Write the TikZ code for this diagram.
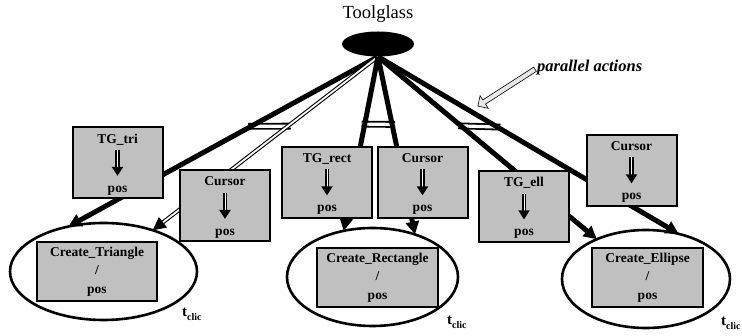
\documentclass[tikz,border=0pt]{standalone}
\usepackage{fontspec}
\setmainfont{Liberation Serif}
\usetikzlibrary{positioning,calc,shapes.geometric,shapes.arrows,arrows.meta}
\definecolor{boxgray}{RGB}{192,192,192}
\definecolor{hintgray}{RGB}{232,232,232}
\newcommand{\tclic}{\textbf{t}\raisebox{-3.5pt}{\fontsize{10}{12}\selectfont\bfseries clic}}

\begin{document}
\begin{tikzpicture}[x=1pt,y=-1pt,
    ring/.style={ellipse,draw,line width=2.6pt,inner sep=0pt,outer sep=0pt},
    createbox/.style={draw,line width=1.4pt,fill=boxgray,inner sep=0pt,minimum height=59pt,
        align=center,font=\fontsize{13.5}{18.5}\selectfont\bfseries},
    actbox/.style={draw,line width=2pt,fill=boxgray,inner sep=0pt,minimum width=90pt,minimum height=71pt},
    boxtext/.style={inner sep=0pt,font=\fontsize{13.5}{16}\selectfont\bfseries},
    tgline/.style={line width=5pt,-{Triangle[width=13pt,length=13pt]}},
    cursline/.style={line width=1.1pt,double=white,double distance=1.8pt,-{Triangle[width=13pt,length=13pt]}},
    parbar/.style={line width=1.8pt,double=white,double distance=3.2pt,shorten <=-3pt,shorten >=-3pt},
    downarr/.style={line width=1.9pt,double=white,double distance=0.9pt,shorten <=7pt,shorten >=10pt,
        -{Triangle[width=11pt,length=9pt]}},
    hintarrow/.style={single arrow,draw,line width=0.6pt,fill=hintgray,minimum width=15pt,
        minimum height=68pt,inner sep=2.2pt,single arrow head extend=5pt}]
    \useasboundingbox (0,0) rectangle (742,336);
    % the three creations
    \node[ring,minimum width=187pt,minimum height=97pt] (ringtri) at (103.5,271.5) {};
    \node[ring,minimum width=171pt,minimum height=98pt] (ringrect) at (372.5,277) {};
    \node[ring,minimum width=168pt,minimum height=98pt] (ringell) at (646,279) {};
    \node[createbox,minimum width=120pt] (crtri) at (97,271.5) {Create\_Triangle\\/\\pos};
    \node[createbox,minimum width=121pt] (crrect) at (377.5,277.5) {Create\_Rectangle\\/\\pos};
    \node[createbox,minimum width=111pt] (crell) at (647.5,277.5) {Create\_Ellipse\\/\\pos};
    \node[anchor=base west,inner sep=0pt,font=\fontsize{15}{18}\selectfont] (ttri) at (182,317) {\tclic};
    \node[anchor=base west,inner sep=0pt,font=\fontsize{15}{18}\selectfont] (trect) at (447,325) {\tclic};
    \node[anchor=base west,inner sep=0pt,font=\fontsize{15}{18}\selectfont] (tell) at (721,326) {\tclic};
    % toolglass
    \node[ellipse,fill=black,minimum width=72pt,minimum height=25pt,inner sep=0pt] (tg) at (378,44) {};
    \node[font=\fontsize{18.5}{22}\selectfont,above=5pt of tg] (tglab) {Toolglass};
    % parallel bars, under the lines
    \coordinate (bartri) at ($(tg.south)!.41!(ringtri.128)$);
    \coordinate (barcurs1) at ($(tg.south)!.40!(ringtri.40)$);
    \coordinate (barrect) at ($(tg.south)!.387!(ringrect.122)$);
    \coordinate (barcurs2) at ($(tg.south)!.381!(ringrect.45)$);
    \coordinate (barell) at ($(tg.south)!.379!(ringell.141)$);
    \coordinate (barcurs3) at ($(tg.south)!.397!(ringell.54)$);
    \draw[parbar] (bartri) -- (barcurs1);
    \draw[parbar] (barrect) -- (barcurs2);
    \draw[parbar] (barell) -- (barcurs3);
    \draw[tgline] (tg.south) -- (ringtri.128);
    \draw[cursline] (tg.south) -- (ringtri.40);
    \draw[tgline] (tg.south) -- (ringrect.122);
    \draw[tgline] (tg.south) -- (ringrect.45);
    \draw[tgline] (tg.south) -- (ringell.141);
    \draw[tgline] (tg.south) -- (ringell.54);
    % parallel actions hint
    \node[font=\fontsize{16.5}{20}\selectfont\bfseries\itshape,anchor=west,inner sep=0pt] (palab) at (537,68) {parallel actions};
    \coordinate (patip) at (478,106);
    \path (palab.west) -- node[hintarrow,sloped,allow upside down] (paarrow) {} (patip);
    % actions
    \foreach \n/\x/\y/\t in {tgtri/117.5/163/TG\_tri, curs1/225/206/Cursor, tgrect/327/182.5/TG\_rect,
        curs2/422.5/182.5/Cursor, tgell/524/206.5/TG\_ell, curs3/631.5/170.5/Cursor}{
        \node[actbox] (\n) at (\x,\y) {};
        \node[boxtext,anchor=north] (\n-lab) at ([yshift=-7pt]\n.north) {\t};
        \node[boxtext,anchor=south] (\n-pos) at ([yshift=4pt]\n.south) {pos};
        \draw[downarr] (\n-lab.base) -- (\n-pos.north);
    }
\end{tikzpicture}
\end{document}
